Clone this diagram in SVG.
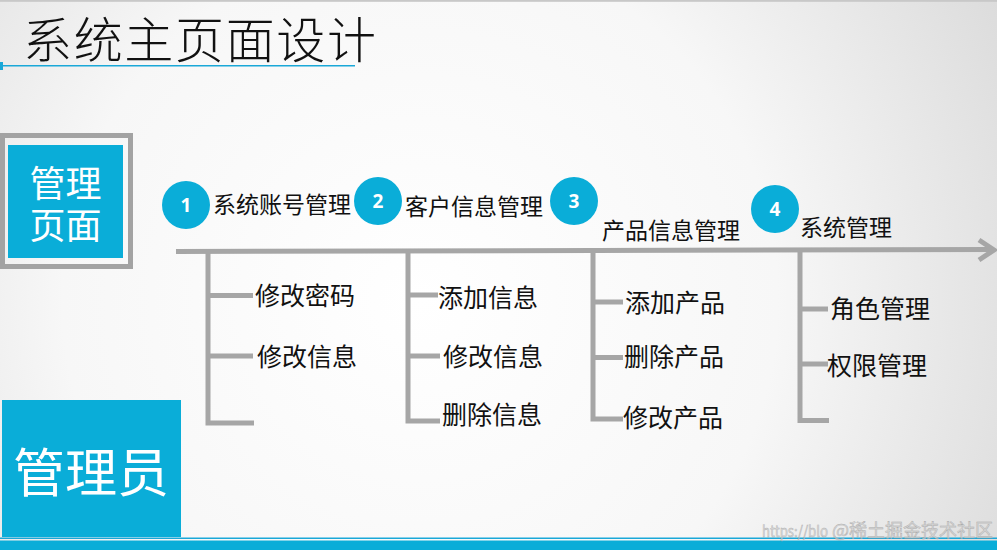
<svg xmlns="http://www.w3.org/2000/svg" width="997" height="550" viewBox="0 0 997 550">
<defs>
<radialGradient id="bg" cx="420" cy="300" r="650" gradientUnits="userSpaceOnUse">
<stop offset="0" stop-color="#ffffff"/>
<stop offset="0.55" stop-color="#f7f7f7"/>
<stop offset="1" stop-color="#dcdcdc"/>
</radialGradient>
</defs>
<style>
.cjk{font-family:"Noto Sans CJK SC","Noto Sans",sans-serif}
.lbl{font-size:23px;fill:#111}
.sub{font-size:25px;fill:#111}
.num{font-family:"Open Sans","Liberation Sans",sans-serif;font-size:19px;font-weight:bold;fill:#fff;text-anchor:middle}
.circ{fill:#0aadd8}
.ax{stroke:#a6a6a6;stroke-width:5;fill:none}
.blue{fill:#0aadd8}
</style>
<rect x="0" y="0" width="997" height="550" fill="url(#bg)"/>
<rect x="0" y="0" width="997" height="1.8" fill="#c8c8c8"/>

<g id="title">
<text class="cjk" x="23" y="57.5" font-size="49" font-weight="300" fill="#111" textLength="353" lengthAdjust="spacing">系统主页面设计</text>
<rect x="0" y="65" width="355" height="1.5" fill="#1aa8d8"/>
<rect x="0" y="62" width="3" height="8" fill="#1aa8d8"/>
</g>

<g id="page-box">
<rect x="2.5" y="135.5" width="128" height="131" fill="none" stroke="#a3a3a3" stroke-width="5"/>
<rect x="8" y="145" width="115" height="113" class="blue"/>
<text class="cjk" font-size="36" fill="#fff" text-anchor="middle"><tspan x="65.5" y="197">管理</tspan><tspan x="65.5" y="239">页面</tspan></text>
</g>

<g id="admin-box">
<rect x="2" y="400" width="179" height="137" class="blue"/>
<text class="cjk" x="91" y="492" font-size="52" fill="#fff" text-anchor="middle">管理员</text>
</g>

<g id="connectors">
<line class="ax" x1="176" y1="251.5" x2="993" y2="249.5"/>
<polyline class="ax" points="979,240 994,250 979,260" stroke-linejoin="miter"/>
<polyline class="ax" points="208,251 208,423 254,423"/>
<line class="ax" x1="208" y1="295.5" x2="253" y2="295.5"/>
<line class="ax" x1="208" y1="356" x2="253" y2="356"/>
<polyline class="ax" points="408,251 408,421 440,421"/>
<line class="ax" x1="408" y1="295" x2="438" y2="295"/>
<line class="ax" x1="408" y1="356" x2="440" y2="356"/>
<polyline class="ax" points="593,250 593,419 623,419"/>
<line class="ax" x1="593" y1="302" x2="623" y2="302"/>
<line class="ax" x1="593" y1="357.5" x2="623" y2="357.5"/>
<polyline class="ax" points="800,250 800,420.5 829,420.5"/>
<line class="ax" x1="800" y1="309" x2="828" y2="309"/>
<line class="ax" x1="800" y1="364" x2="828" y2="364"/>
</g>

<g id="n1">
<circle class="circ" cx="186" cy="205" r="24"/>
<text class="num" x="186" y="212">1</text>
<text class="cjk lbl" x="213" y="212.5">系统账号管理</text>
</g>
<g id="n2">
<circle class="circ" cx="378" cy="201" r="24"/>
<text class="num" x="378" y="208">2</text>
<text class="cjk lbl" x="405" y="215">客户信息管理</text>
</g>
<g id="n3">
<circle class="circ" cx="574" cy="201" r="24"/>
<text class="num" x="574" y="208">3</text>
<text class="cjk lbl" x="602" y="239">产品信息管理</text>
</g>
<g id="n4">
<circle class="circ" cx="775" cy="209" r="24"/>
<text class="num" x="775" y="216">4</text>
<text class="cjk lbl" x="800" y="236">系统管理</text>
</g>

<g id="b1-items">
<text class="cjk sub" x="255" y="305">修改密码</text>
<text class="cjk sub" x="257" y="366">修改信息</text>
</g>
<g id="b2-items">
<text class="cjk sub" x="438" y="306.5">添加信息</text>
<text class="cjk sub" x="443" y="365.5">修改信息</text>
<text class="cjk sub" x="442" y="424">删除信息</text>
</g>
<g id="b3-items">
<text class="cjk sub" x="625" y="312">添加产品</text>
<text class="cjk sub" x="624" y="366">删除产品</text>
<text class="cjk sub" x="623" y="427">修改产品</text>
</g>
<g id="b4-items">
<text class="cjk sub" x="830" y="318">角色管理</text>
<text class="cjk sub" x="827" y="375">权限管理</text>
</g>

<g id="footer">
<rect x="0" y="537.5" width="997" height="1.5" fill="#1aa8d8"/>
<rect x="0" y="540.5" width="997" height="9.5" fill="#0aadd8"/>
<text class="cjk" y="537" fill="#d4d4d4" stroke="#9a9a9a" stroke-width="0.4" opacity="0.8"><tspan x="762" font-size="15" textLength="66" lengthAdjust="spacingAndGlyphs">https://blo</tspan><tspan x="832" font-size="18">@稀土掘金技术社区</tspan></text>
</g>
</svg>
